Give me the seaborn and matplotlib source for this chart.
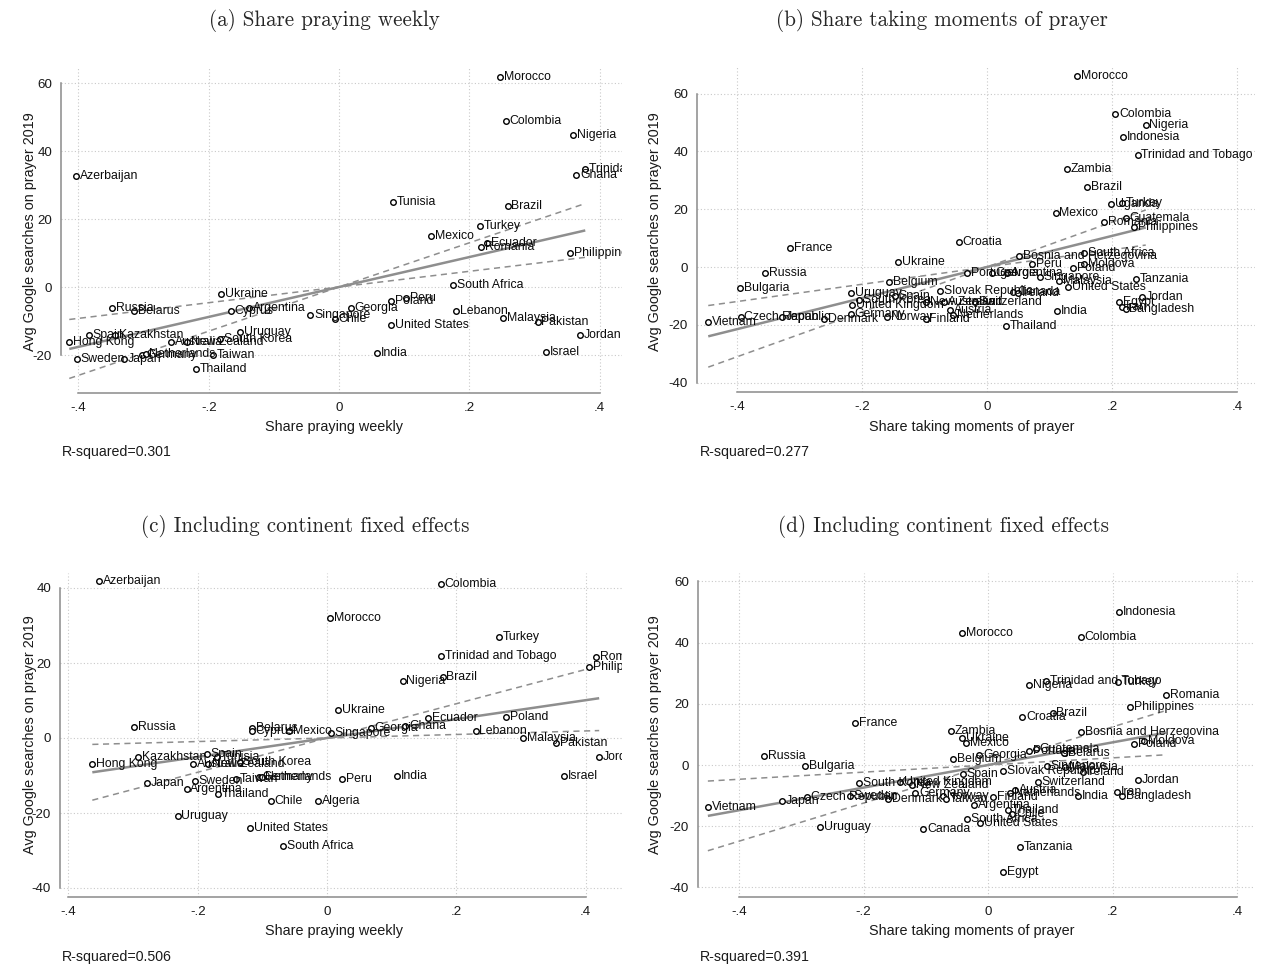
import numpy as np
import pandas as pd
import matplotlib
matplotlib.use("Agg")
import matplotlib.pyplot as plt
import seaborn as sns

# ---------------- data: residualised shares vs. prayer searches ----------------
# (a) share praying weekly
names_a = ["Morocco", "Colombia", "Nigeria", "Trinidad and Tobago", "Ghana", "Azerbaijan",
           "Tunisia", "Brazil", "Turkey", "Mexico", "Ecuador", "Romania", "Philippines",
           "South Africa", "Peru", "Poland", "Georgia", "Lebanon", "Malaysia", "Pakistan",
           "Singapore", "Chile", "United States", "Jordan", "India", "Israel", "Ukraine",
           "Russia", "Belarus", "Cyprus", "Argentina", "Uruguay", "South Korea", "Australia",
           "New Zealand", "Spain", "Kazakhstan", "Hong Kong", "Sweden", "Japan", "Germany",
           "Netherlands", "Taiwan", "Thailand"]
x_a = [0.247, 0.256, 0.359, 0.378, 0.364, -0.404, 0.083, 0.259, 0.217, 0.141, 0.227, 0.218,
       0.355, 0.175, 0.103, 0.080, 0.018, 0.180, 0.252, 0.305, -0.044, -0.006, 0.080, 0.370,
       0.058, 0.318, -0.181, -0.348, -0.315, -0.166, -0.138, -0.152, -0.183, -0.258, -0.233,
       -0.384, -0.344, -0.414, -0.402, -0.330, -0.302, -0.297, -0.193, -0.220]
y_a = [61.8, 48.8, 44.7, 34.7, 32.9, 32.6, 25.0, 23.8, 17.9, 15.0, 12.9, 11.8, 10.0, 0.6,
       -3.2, -4.1, -6.2, -7.1, -9.1, -10.2, -8.2, -9.4, -11.2, -14.1, -19.4, -19.1, -2.1,
       -6.2, -7.1, -7.1, -6.2, -13.2, -15.3, -16.2, -16.2, -14.1, -14.1, -16.2, -21.2, -21.2,
       -20.0, -19.8, -20.0, -24.1]

# (b) share taking moments of prayer
names_b = ["Morocco", "Colombia", "Nigeria", "Indonesia", "Trinidad and Tobago", "Zambia",
           "Brazil", "Uganda", "Turkey", "Mexico", "Guatemala", "Romania", "Philippines",
           "Croatia", "France", "South Africa", "Bosnia and Herzegovina", "Ukraine", "Peru",
           "Moldova", "Poland", "Russia", "Portugal", "Georgia", "Argentina", "Singapore",
           "Malaysia", "United States", "Tanzania", "Belgium", "Bulgaria", "Slovak Republic",
           "Uruguay", "Canada", "Ireland", "Spain", "Jordan", "South Korea", "New Zealand",
           "Australia", "Switzerland", "United Kingdom", "Egypt", "Iran", "Bangladesh",
           "Austria", "India", "Germany", "Netherlands", "Czech Republic", "Japan", "Norway",
           "Denmark", "Finland", "Vietnam", "Thailand"]
x_b = [0.144, 0.205, 0.254, 0.218, 0.241, 0.128, 0.160, 0.198, 0.216, 0.110, 0.222, 0.187,
       0.235, -0.045, -0.315, 0.155, 0.051, -0.142, 0.072, 0.155, 0.138, -0.355, -0.032,
       0.008, 0.032, 0.085, 0.115, 0.130, 0.238, -0.157, -0.395, -0.075, -0.218, 0.042,
       0.050, -0.147, 0.248, -0.205, -0.098, -0.069, -0.019, -0.216, 0.211, 0.216, 0.222,
       -0.059, 0.112, -0.218, -0.054, -0.394, -0.328, -0.160, -0.261, -0.098, -0.446, 0.030]
y_b = [66.1, 52.9, 49.1, 45.0, 38.8, 33.9, 27.7, 21.8, 22.1, 18.7, 17.0, 15.6, 13.8, 8.6,
       6.6, 4.8, 3.8, 1.7, 1.0, 1.0, -0.3, -2.1, -2.1, -2.1, -2.1, -3.5, -4.8, -6.9, -4.2,
       -5.2, -7.3, -8.3, -9.0, -8.7, -9.0, -10.0, -10.4, -11.4, -12.1, -12.1, -12.1, -13.1,
       -12.1, -13.8, -14.5, -14.9, -15.2, -16.3, -16.6, -17.3, -17.3, -17.3, -18.0, -18.0,
       -19.0, -20.4]

# (c) share praying weekly, continent fixed effects
names_c = ["Azerbaijan", "Colombia", "Morocco", "Turkey", "Trinidad and Tobago", "Romania",
           "Philippines", "Brazil", "Nigeria", "Ukraine", "Poland", "Ecuador", "Ghana",
           "Russia", "Georgia", "Belarus", "Cyprus", "Lebanon", "Mexico", "Singapore",
           "Malaysia", "Pakistan", "Kazakhstan", "Spain", "Tunisia", "Jordan", "South Korea",
           "Hong Kong", "Australia", "New Zealand", "India", "Israel", "Germany",
           "Netherlands", "Taiwan", "Peru", "Sweden", "Japan", "Argentina", "Thailand",
           "Chile", "Algeria", "Uruguay", "United States", "South Africa"]
x_c = [-0.353, 0.176, 0.005, 0.266, 0.177, 0.416, 0.405, 0.179, 0.117, 0.017, 0.277, 0.156,
       0.121, -0.298, 0.068, -0.116, -0.116, 0.230, -0.059, 0.006, 0.303, 0.354, -0.292,
       -0.186, -0.170, 0.421, -0.135, -0.363, -0.207, -0.184, 0.109, 0.367, -0.105, -0.101,
       -0.140, 0.023, -0.204, -0.279, -0.217, -0.169, -0.087, -0.014, -0.231, -0.119, -0.068]
y_c = [41.9, 41.1, 32.0, 26.9, 21.9, 21.6, 19.0, 16.3, 15.2, 7.5, 5.6, 5.3, 3.2, 3.0, 2.7,
       2.7, 1.9, 1.9, 1.9, 1.3, 0.0, -1.3, -5.0, -4.3, -5.1, -5.1, -6.4, -6.9, -6.9, -6.9,
       -10.2, -10.2, -10.4, -10.4, -10.9, -11.0, -11.4, -11.9, -13.7, -14.9, -16.8, -16.8,
       -20.8, -23.9, -28.8]

# (d) share taking moments of prayer, continent fixed effects
names_d = ["Indonesia", "Morocco", "Colombia", "Trinidad and Tobago", "Turkey", "Nigeria",
           "Romania", "Philippines", "Brazil", "Croatia", "France", "Zambia",
           "Bosnia and Herzegovina", "Ukraine", "Moldova", "Mexico", "Poland", "Guatemala",
           "Portugal", "Belarus", "Georgia", "Russia", "Belgium", "Bulgaria", "Singapore",
           "Malaysia", "Slovak Republic", "Ireland", "Spain", "Jordan", "Switzerland",
           "United Kingdom", "South Korea", "New Zealand", "Austria", "Iran", "Germany",
           "Netherlands", "Norway", "India", "Bangladesh", "Czech Republic", "Finland",
           "Sweden", "Denmark", "Taiwan", "Japan", "Argentina", "Vietnam", "Thailand", "Chile",
           "South Africa", "United States", "Uruguay", "Canada", "Tanzania", "Egypt"]
x_d = [0.210, -0.042, 0.149, 0.093, 0.209, 0.066, 0.286, 0.228, 0.104, 0.055, -0.214,
       -0.059, 0.149, -0.042, 0.251, -0.035, 0.235, 0.077, 0.066, 0.122, -0.014, -0.360,
       -0.056, -0.294, 0.095, 0.124, 0.024, 0.153, -0.040, 0.241, 0.080, -0.141, -0.207,
       -0.122, 0.043, 0.207, -0.117, 0.035, -0.072, 0.145, 0.215, -0.291, 0.008, -0.222,
       -0.161, -0.067, -0.331, -0.022, -0.450, 0.032, 0.039, -0.034, -0.013, -0.270, -0.104,
       0.051, 0.024]
y_d = [50.0, 43.1, 41.8, 27.5, 27.1, 26.1, 22.9, 19.0, 17.0, 15.7, 13.7, 11.1, 10.8, 8.8,
       7.8, 7.2, 6.9, 5.2, 4.6, 3.9, 3.3, 2.9, 2.0, -0.3, -0.3, -0.7, -2.0, -2.3, -2.9, -4.9,
       -5.6, -5.6, -5.9, -6.5, -8.2, -8.8, -9.2, -9.2, -10.1, -10.1, -10.1, -10.5, -10.5,
       -10.2, -11.1, -11.1, -11.8, -13.1, -13.7, -14.7, -16.0, -17.6, -19.0, -20.3, -20.9,
       -26.8, -35.0]

titles = ["(a) Share praying weekly", "(b) Share taking moments of prayer",
          "(c) Including continent fixed effects", "(d) Including continent fixed effects"]
xlabels = ["Share praying weekly", "Share taking moments of prayer",
           "Share praying weekly", "Share taking moments of prayer"]
ylabel = "Avg Google searches on prayer 2019"
r2_text = ["R-squared=0.301", "R-squared=0.277", "R-squared=0.506", "R-squared=0.391"]
x_ticks = [-0.4, -0.2, 0.0, 0.2, 0.4]
y_ticks_a = [-20, 0, 20, 40, 60]
y_ticks_b = [-40, -20, 0, 20, 40, 60]
y_ticks_c = [-40, -20, 0, 20, 40]
y_ticks_d = [-40, -20, 0, 20, 40, 60]

# ---------------- styling ----------------
sns.set_style("white")
plt.rcParams["font.family"] = ["Liberation Sans", "DejaVu Sans"]
plt.rcParams["axes.unicode_minus"] = False

W, H = 1268, 965
fig = plt.figure(figsize=(W / 100, H / 100), dpi=100)

AX_GRAY = "#8a8a8a"
FIT_GRAY = "#8e8e8e"
GRID_GRAY = "#c9c9c9"
T_CRIT = 2.02


def px_axes(left, top, right, bottom):
    return fig.add_axes([left / W, 1 - bottom / H, (right - left) / W, (bottom - top) / H])


def fmt_share(v):
    if abs(v) < 1e-9:
        return "0"
    return f"{v:g}".replace("0.", ".")


def draw_panel(ax, names, xs, ys, xlim, ylim, yticks):
    df = pd.DataFrame({"country": names, "x": xs, "y": ys})
    x = df["x"].to_numpy()
    y = df["y"].to_numpy()
    # OLS through the origin on the residualised variables, with 95% CI on the slope
    b = (x * y).sum() / (x * x).sum()
    resid = y - b * x
    s2 = (resid ** 2).sum() / (len(x) - 1)
    se = np.sqrt(s2 / (x * x).sum())
    xx = np.array([x.min(), x.max()])
    ax.plot(xx, b * xx, color=FIT_GRAY, lw=1.8, zorder=2, solid_capstyle="butt")
    for bb in (b - T_CRIT * se, b + T_CRIT * se):
        ax.plot(xx, bb * xx, color=FIT_GRAY, lw=1.1, ls=(0, (4, 3)), zorder=2)

    sns.scatterplot(data=df, x="x", y="y", ax=ax, marker="o", s=16, color="white",
                    edgecolor="black", linewidth=1.0, zorder=3, legend=False)
    for name, xv, yv in zip(df["country"], x, y):
        ax.annotate(name, (xv, yv), xytext=(2.7, 0), textcoords="offset points",
                    ha="left", va="center", fontsize=8.8, color="#0a0a0a",
                    clip_on=True, zorder=4)

    ax.set_xlim(*xlim)
    ax.set_ylim(*ylim)
    ax.set_xticks(x_ticks)
    ax.set_xticklabels([fmt_share(v) for v in x_ticks])
    ax.set_yticks(yticks)
    ax.set_yticklabels([str(v) for v in yticks])
    ax.set_xlabel("")
    ax.set_ylabel("")
    ax.set_axisbelow(True)
    ax.grid(True, linestyle=(0, (1, 2)), color=GRID_GRAY, linewidth=0.8)
    for s in ("top", "right"):
        ax.spines[s].set_visible(False)
    ax.spines["left"].set_bounds(yticks[0], yticks[-1])
    ax.spines["bottom"].set_bounds(x_ticks[0], x_ticks[-1])
    for s in ("left", "bottom"):
        ax.spines[s].set_color(AX_GRAY)
        ax.spines[s].set_linewidth(1.1)
    ax.tick_params(direction="out", length=4, width=1, color=AX_GRAY,
                   labelsize=9.6, pad=2.5, labelcolor="#1a1a1a")


def limits(left, top, right, bottom, x0, xs, y0, ys):
    return ((left - x0) / xs, (right - x0) / xs), ((y0 - bottom) / ys, (y0 - top) / ys)


# panel frames in pixels: (left, top, right, bottom), and pixel positions of x=0 / y=0
frames = [
    ((61, 67, 622, 393), (339, 651.5, 287, 3.40)),
    ((697, 67, 1255, 392), (987, 625.0, 267, 2.89)),
    ((60, 573, 622, 897), (327, 646.5, 738, 3.75)),
    ((698, 573, 1255, 897), (988, 622.5, 765, 3.06)),
]
data = [(names_a, x_a, y_a, y_ticks_a), (names_b, x_b, y_b, y_ticks_b),
        (names_c, x_c, y_c, y_ticks_c), (names_d, x_d, y_d, y_ticks_d)]

title_pos = [(324, 20), (942, 20), (305, 527), (943, 527)]
xlabel_pos = [(334, 427), (972, 427), (334, 931), (972, 931)]
ylabel_pos = [(30, 232), (655, 232), (30, 735), (655, 735)]
r2_pos = [(62, 452), (700, 452), (62, 957), (700, 957)]

for i in range(4):
    (l, t, r, bt), (x0, xs, y0, ys) = frames[i]
    ax = px_axes(l, t, r, bt)
    xl, yl = limits(l, t, r, bt, x0, xs, y0, ys)
    nm, xv, yv, yt = data[i]
    draw_panel(ax, nm, xv, yv, xl, yl, yt)

    tx, ty = title_pos[i]
    fig.text(tx / W, 1 - ty / H, titles[i], ha="center", va="center",
             fontsize=15.2, family="cmr10")
    lx, ly = xlabel_pos[i]
    fig.text(lx / W, 1 - ly / H, xlabels[i], ha="center", va="center",
             fontsize=10.4, color="#1a1a1a")
    yx, yy = ylabel_pos[i]
    fig.text(yx / W, 1 - yy / H, ylabel, ha="center", va="center", rotation=90,
             fontsize=10.4, color="#1a1a1a")
    rx, ry = r2_pos[i]
    fig.text(rx / W, 1 - ry / H, r2_text[i], ha="left", va="center",
             fontsize=10.2, color="#1a1a1a")

fig.savefig("out.png", dpi=100, facecolor="white")
